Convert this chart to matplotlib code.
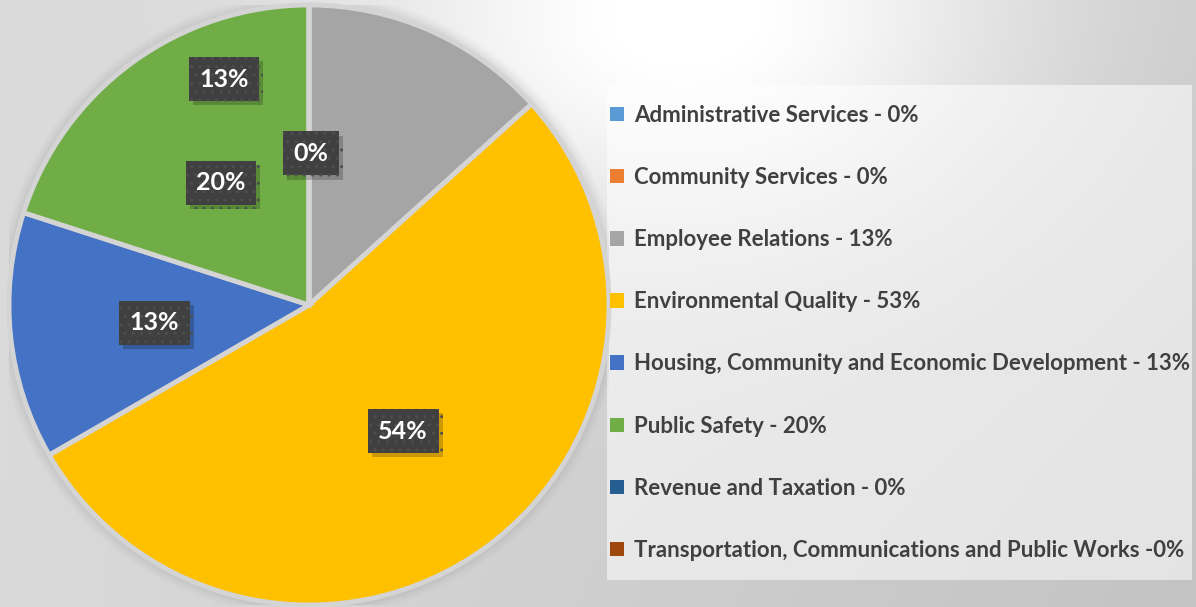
import matplotlib.pyplot as plt
import numpy as np
from matplotlib.patches import Patch, Circle, Rectangle
from matplotlib import patheffects as pe

# ============ data ============
departments = [
    'Administrative Services',
    'Community Services',
    'Employee Relations',
    'Environmental Quality',
    'Housing, Community and Economic Development',
    'Public Safety',
    'Revenue and Taxation',
    'Transportation, Communications and Public Works',
]
shares = [0.0, 0.0, 13.3, 53.3, 13.3, 20.0, 0.0, 0.0]
legend_labels = [
    'Administrative Services - 0%',
    'Community Services - 0%',
    'Employee Relations - 13%',
    'Environmental Quality - 53%',
    'Housing, Community and Economic Development - 13%',
    'Public Safety - 20%',
    'Revenue and Taxation - 0%',
    'Transportation, Communications and Public Works -0%',
]
colors = ['#5B9BD5', '#ED7D31', '#A5A5A5', '#FFC000',
          '#4472C4', '#70AD47', '#255E91', '#9E480E']

# data labels as they sit on the original slide (moved by hand in Excel)
data_labels = ['13%', '0%', '20%', '13%', '54%']
label_pos = [(-0.284, 0.753), (0.007, 0.505), (-0.294, 0.408),
             (-0.515, -0.060), (0.314, -0.421)]

W, H = 1196, 607
fig = plt.figure(figsize=(W / 100, H / 100), dpi=100)

# ============ background gradient ============
bg = fig.add_axes([0, 0, 1, 1], zorder=-10)
yy, xx = np.mgrid[0:H, 0:W]
base = 0.855 - 0.06 * (xx / W) - 0.03 * (yy / H) * (xx / W)
d2 = ((xx - 700) / 330.0) ** 2 + ((yy - 20) / 230.0) ** 2
img = np.clip(base + 0.19 * np.exp(-d2), 0, 1)
bg.imshow(np.dstack([img] * 3), aspect='auto', extent=(0, W, H, 0))
bg.set_axis_off()

# legend panel
fig.patches.append(Rectangle((607 / W, 1 - 580 / H), 585 / W, 495 / H,
                             transform=fig.transFigure, facecolor='white',
                             alpha=0.55, edgecolor='none', zorder=-5))

# ============ pie ============
cx, cy, r = 309, 305, 300
ax = fig.add_axes([(cx - r) / W, (H - cy - r) / H, 2 * r / W, 2 * r / H])

# soft shadow round the pie
for k, a in zip(np.linspace(1.04, 1.0, 6), [0.02, 0.03, 0.04, 0.05, 0.06, 0.07]):
    ax.add_patch(Circle((0, 0), k, facecolor='#707070', alpha=a, edgecolor='none'))

wedges, _ = ax.pie(shares, colors=colors, startangle=90, counterclock=False,
                   radius=1.0, wedgeprops=dict(edgecolor='#d4d4d4', linewidth=3.5))
ax.set_xlim(-1, 1)
ax.set_ylim(-1, 1)
ax.set_axis_off()

for txt, (x, y) in zip(data_labels, label_pos):
    t = ax.text(x, y, txt, ha='center', va='center', color='white',
                fontsize=18, fontweight='bold', family=['Lato', 'DejaVu Sans'],
                bbox=dict(boxstyle='square,pad=0.42', facecolor='#404040',
                          edgecolor='#4e4e4e', linewidth=0, hatch='..'))
    t.get_bbox_patch().set_path_effects([
        pe.SimplePatchShadow(offset=(3, -3), shadow_rgbFace='black', alpha=0.2),
        pe.Normal()])

# ============ legend ============
handles = [Patch(facecolor=c, edgecolor='none') for c in colors]
leg = fig.legend(handles, legend_labels, loc='upper left',
                 bbox_to_anchor=(610 / W, 1 - 105 / H), frameon=False,
                 prop=dict(family=['Lato', 'DejaVu Sans'], weight='bold', size=16),
                 handlelength=0.62, handleheight=0.62, handletextpad=0.45,
                 labelspacing=1.85, borderpad=0, borderaxespad=0)
for t in leg.get_texts():
    t.set_color('#404040')

fig.savefig('out.png', dpi=100)
